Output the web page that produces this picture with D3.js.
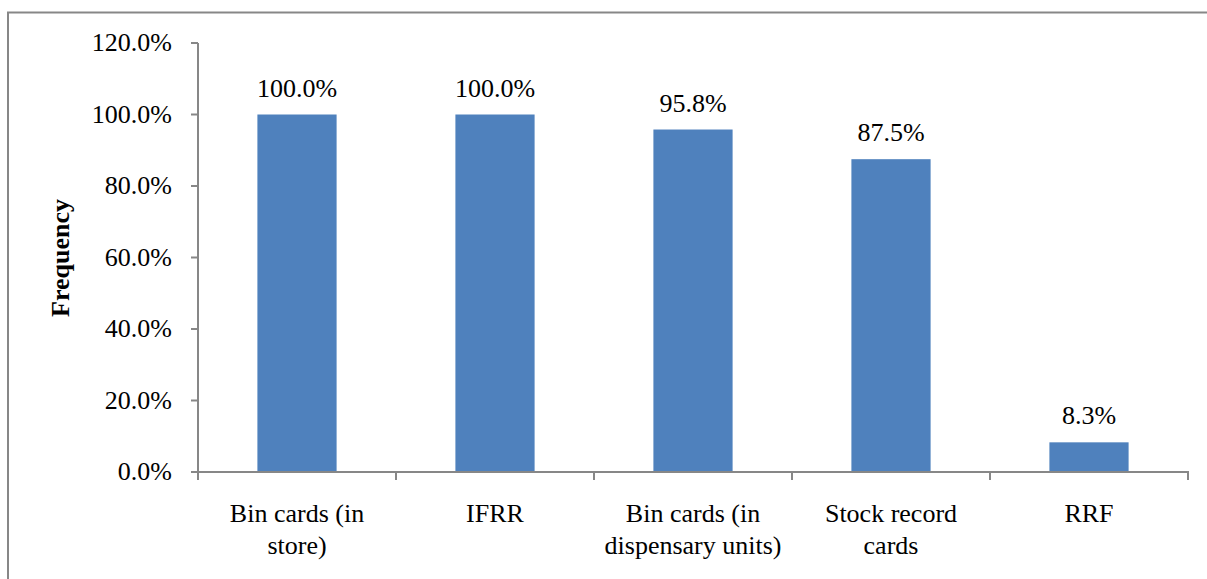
<!DOCTYPE html>
<html>
<head>
<meta charset="utf-8">
<script src="https://cdn.jsdelivr.net/npm/d3@7"></script>
<style>
  html, body { margin: 0; padding: 0; background: #fff; }
  svg { display: block; }
</style>
</head>
<body>
<script>
// Record types and the share of facilities using each
const categories = [
  ["Bin cards (in", "store)"],
  ["IFRR"],
  ["Bin cards (in", "dispensary units)"],
  ["Stock record", "cards"],
  ["RRF"]
];
const values = [100.0, 100.0, 95.8, 87.5, 8.3];
const yTicks = [0, 20, 40, 60, 80, 100, 120];
const yTitle = "Frequency";

const W = 1207, H = 579;
const axisColor = "#878787";
const barColor = "#4F81BD";
const serif = "'Liberation Serif', 'Times New Roman', Times, serif";

const svg = d3.select("body").append("svg")
  .attr("width", W).attr("height", H)
  .attr("font-family", serif)
  .style("font-family", serif);

// Outer chart frame: top and left edges (the rest runs off the page)
svg.append("path")
  .attr("d", `M8,${H + 10}V12.5H${W + 10}`)
  .attr("fill", "none").attr("stroke", axisColor).attr("stroke-width", 2);

const plot = { left: 198, right: 1188, top: 43, bottom: 472 };

const x = d3.scaleBand()
  .domain(d3.range(values.length))
  .range([plot.left, plot.right])
  .paddingInner(0.6)
  .paddingOuter(0.3);

const y = d3.scaleLinear().domain([0, 120]).range([plot.bottom, plot.top]);

// Bars
svg.append("g").selectAll("rect")
  .data(values)
  .join("rect")
  .attr("x", (d, i) => x(i))
  .attr("y", d => y(d))
  .attr("width", x.bandwidth())
  .attr("height", d => y(0) - y(d))
  .attr("fill", barColor);

// Value labels
svg.append("g").selectAll("text")
  .data(values)
  .join("text")
  .attr("font-family", serif)
  .attr("x", (d, i) => x(i) + x.bandwidth() / 2)
  .attr("y", d => y(d) - 18)
  .attr("text-anchor", "middle")
  .attr("font-size", 26)
  .text(d => d.toFixed(1) + "%");

// Y axis
const yAxis = svg.append("g");
yAxis.append("line")
  .attr("x1", plot.left).attr("x2", plot.left)
  .attr("y1", y(120)).attr("y2", y(0))
  .attr("stroke", axisColor).attr("stroke-width", 2);
yAxis.selectAll("line.tick")
  .data(yTicks)
  .join("line")
  .attr("class", "tick")
  .attr("x1", plot.left - 7).attr("x2", plot.left)
  .attr("y1", d => y(d)).attr("y2", d => y(d))
  .attr("stroke", axisColor).attr("stroke-width", 2);
yAxis.selectAll("text")
  .data(yTicks)
  .join("text")
  .attr("font-family", serif)
  .attr("x", 172)
  .attr("y", d => y(d) + 8)
  .attr("text-anchor", "end")
  .attr("font-size", 26)
  .text(d => d.toFixed(1) + "%");

// X axis
const xAxis = svg.append("g");
xAxis.append("line")
  .attr("x1", plot.left - 7).attr("x2", plot.right + 1)
  .attr("y1", plot.bottom).attr("y2", plot.bottom)
  .attr("stroke", axisColor).attr("stroke-width", 2);
const step = x.step();
xAxis.selectAll("line.tick")
  .data(d3.range(values.length + 1))
  .join("line")
  .attr("class", "tick")
  .attr("x1", i => plot.left + i * step).attr("x2", i => plot.left + i * step)
  .attr("y1", plot.bottom).attr("y2", plot.bottom + 8)
  .attr("stroke", axisColor).attr("stroke-width", 2);

const catLabels = xAxis.selectAll("text")
  .data(categories)
  .join("text")
  .attr("font-family", serif)
  .attr("text-anchor", "middle")
  .attr("font-size", 26)
  .attr("transform", (d, i) => `translate(${x(i) + x.bandwidth() / 2},522)`);
catLabels.selectAll("tspan")
  .data(d => d)
  .join("tspan")
  .attr("x", 0)
  .attr("y", (d, j) => j * 32)
  .text(d => d);

// Y axis title
svg.append("text")
  .attr("font-family", serif)
  .attr("transform", `translate(69,258) rotate(-90)`)
  .attr("text-anchor", "middle")
  .attr("font-size", 26)
  .attr("font-weight", "bold")
  .text(yTitle);
</script>
</body>
</html>
